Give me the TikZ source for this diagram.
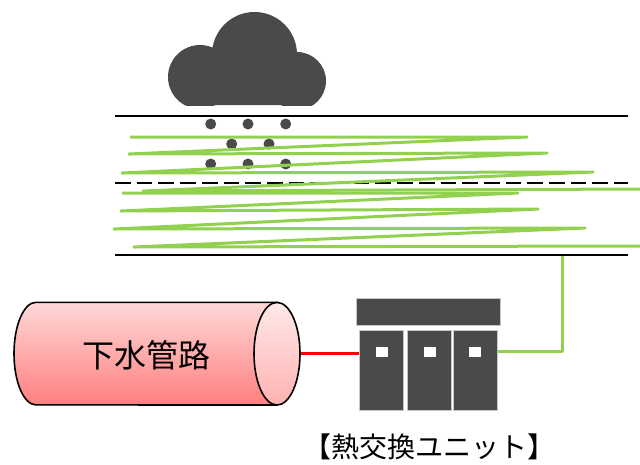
\documentclass[tikz,border=0pt]{standalone}
\usepackage{xcolor}
\usepackage{fontspec}
\usepackage{tikz}
\usetikzlibrary{shapes.geometric}

\newfontfamily\jpfont{Noto Sans CJK JP}
\definecolor{coilgreen}{HTML}{92D050}
\definecolor{unitgray}{HTML}{4A4A4A}
\definecolor{pipetop}{HTML}{FFD8D8}
\definecolor{pipebot}{HTML}{FF7F7F}
\definecolor{captop}{HTML}{FFE8E8}
\definecolor{capbot}{HTML}{FFB2B2}

\begin{document}
\begin{tikzpicture}[x=1pt, y=-1pt,
	ground/.style={line width=2pt},
	coil/.style={coilgreen, line width=3pt, line join=round},
	unitpart/.style={fill=unitgray, draw=gray!45, line width=0.6pt, inner sep=0pt},
	window/.style={fill=white, inner sep=0pt, minimum width=12pt, minimum height=10pt},
	drop/.style={fill=unitgray}]
	\useasboundingbox (0,0) rectangle (640,464);

	% cloud
	\begin{scope}
		\clip (150,0) rectangle (340,105);
		\fill[unitgray] (200,77) circle (32pt) (297,81) circle (29pt)
			(254.5,54.5) circle (42.5pt) (200,60) rectangle (297,105);
	\end{scope}
	% rain
	\foreach \x/\y in {210.7/124, 248/124, 285.7/124, 231.7/144, 269/144,
		210.7/164, 248/164, 285.7/164}
		\fill[drop] (\x,\y) circle (5.5pt);

	% ground layers
	\draw[ground] (115,116) -- (628,116);
	\draw[ground, dash pattern=on 15.7pt off 6pt] (115,183) -- (628,183);
	\draw[ground] (115,254.5) -- (628,254.5);

	% heat collecting coils
	\draw[coil] (130,137) -- (527,137) -- (129,154) -- (547,153) -- (122,173)
		-- (593,172) -- (143,191) -- (642,189);
	\draw[coil] (122,193) -- (518,193) -- (121,211) -- (538,209) -- (114,229)
		-- (585,228) -- (134,247) -- (642,246);

	% sewer pipe
	\draw[line width=1.6pt, top color=pipetop, bottom color=pipebot]
		(277,302.3) -- (36,302.3) arc[start angle=270, end angle=90, x radius=22, y radius=51.3]
		-- (277,405) -- cycle;
	\node[ellipse, draw, line width=1.6pt, inner sep=0pt, minimum width=46pt,
		minimum height=102.6pt, top color=captop, bottom color=capbot] (cap) at (277,353.7) {};
	\node[font=\jpfont\fontsize{32}{36}\selectfont] (sewer) at (146,355) {下水管路};

	% heat exchange unit
	\node[unitpart, minimum width=143.3pt, minimum height=26.7pt] (bar) at (428.3,311.7) {};
	\node[unitpart, minimum width=44pt, minimum height=79.3pt] (cab1) at (381.3,370.3) {};
	\node[unitpart, minimum width=43.7pt, minimum height=79.3pt] (cab2) at (429.2,370.3) {};
	\node[unitpart, minimum width=44pt, minimum height=79.3pt] (cab3) at (475.3,370.3) {};
	\node[window] (win1) at (381.7,352) {};
	\node[window] (win2) at (429.5,352) {};
	\node[window] (win3) at (475.3,352) {};
	\node[font=\jpfont\fontsize{28}{30}\selectfont] (unitname) at (429,447) {【熱交換ユニット】};

	% connections
	\coordinate (tap) at (562,256);
	\draw[red, line width=3pt] (cap.east) -- (cap.east -| cab1.west);
	\draw[coil] ([yshift=19.3pt]cab3.east) -| (tap);
\end{tikzpicture}
\end{document}
